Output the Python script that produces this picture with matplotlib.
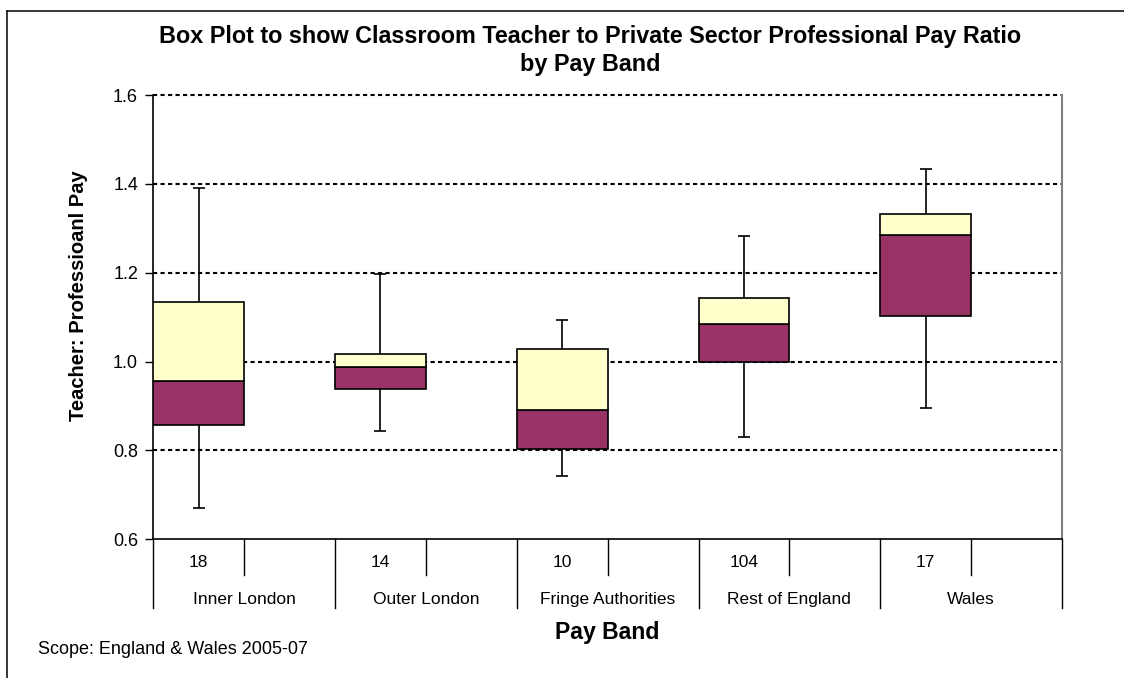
import numpy as np
import matplotlib.pyplot as plt
from matplotlib.lines import Line2D

plt.rcParams['font.family'] = ['Liberation Sans', 'DejaVu Sans']

# Pay band summary: whisker ends, quartiles and medians of the pay ratio
bands = ['Inner London', 'Outer London', 'Fringe Authorities', 'Rest of England', 'Wales']
counts = [18, 14, 10, 104, 17]
low = np.array([0.671, 0.844, 0.742, 0.830, 0.895])
q1 = np.array([0.857, 0.939, 0.804, 1.000, 1.103])
median = np.array([0.956, 0.988, 0.892, 1.084, 1.285])
q3 = np.array([1.135, 1.018, 1.029, 1.142, 1.333])
high = np.array([1.390, 1.198, 1.094, 1.283, 1.434])
yticks = [0.6, 0.8, 1.0, 1.2, 1.4, 1.6]

W, H = 1124, 678
fig = plt.figure(figsize=(W / 100, H / 100), dpi=100)
ax = fig.add_axes([153.3 / W, 1 - 539.3 / H, (1062 - 153.3) / W, (539.3 - 95) / H])

# each band takes two slots: the box sits in the first one
x = np.arange(len(bands)) * 2 + 0.5

for y in yticks[1:]:
    ax.axhline(y, color='black', lw=1.5, ls=(0, (2, 1.6)), zorder=1, clip_on=False)

ax.errorbar(x, (low + high) / 2, yerr=(high - low) / 2, fmt='none', ecolor='black',
            elinewidth=1.2, capsize=4, capthick=1.2, zorder=2)
ax.bar(x, median - q1, bottom=q1, width=1.0, color='#993366', edgecolor='black',
       linewidth=1.2, zorder=3)
ax.bar(x, q3 - median, bottom=median, width=1.0, color='#FFFFCC', edgecolor='black',
       linewidth=1.2, zorder=3)

ax.set_xlim(0, 10)
ax.set_ylim(0.6, 1.6)
ax.set_xticks([])
ax.set_yticks(yticks)
ax.set_yticklabels([f'{v:.1f}' for v in yticks])
ax.tick_params(axis='y', direction='out', length=6, width=1, labelsize=13, pad=5)

ax.spines['top'].set_visible(False)
ax.spines['right'].set_color('#808080')
ax.spines['right'].set_linewidth(1.5)
ax.spines['left'].set_linewidth(1.2)
ax.spines['bottom'].set_linewidth(1.2)

# two-level category axis: counts on top row, band names below
tr = ax.get_xaxis_transform()
for i in range(len(bands)):
    ax.text(x[i], -0.053, str(counts[i]), ha='center', va='center',
            transform=tr, fontsize=12.5)
    ax.text(2 * i + 1, -0.135, bands[i], ha='center', va='center',
            transform=tr, fontsize=12.5)
for b in range(11):
    yb = -0.154 if b % 2 == 0 else -0.080
    ax.add_line(Line2D([b, b], [0, yb], transform=tr, clip_on=False,
                       color='black', lw=1.0))

fig.text(590 / W, 1 - 36 / H,
         'Box Plot to show Classroom Teacher to Private Sector Professional Pay Ratio',
         ha='center', va='center', fontsize=16.8, fontweight='bold')
fig.text(590 / W, 1 - 65 / H, 'by Pay Band',
         ha='center', va='center', fontsize=16.8, fontweight='bold')
fig.text(78 / W, 1 - 296 / H, 'Teacher: Professioanl Pay', rotation=90,
         ha='center', va='center', fontsize=14.5, fontweight='bold')
fig.text(607 / W, 1 - 632 / H, 'Pay Band', ha='center', va='center',
         fontsize=16.6, fontweight='bold')
fig.text(38 / W, 1 - 650 / H, 'Scope: England & Wales 2005-07', ha='left',
         va='center', fontsize=13)

# outer chart frame
fig.add_artist(Line2D([7 / W, 7 / W], [0, 1 - 11 / H], transform=fig.transFigure,
                      color='black', lw=1.1))
fig.add_artist(Line2D([7 / W, 1], [1 - 11 / H, 1 - 11 / H], transform=fig.transFigure,
                      color='black', lw=1.1))

fig.savefig('out.png', dpi=100)
